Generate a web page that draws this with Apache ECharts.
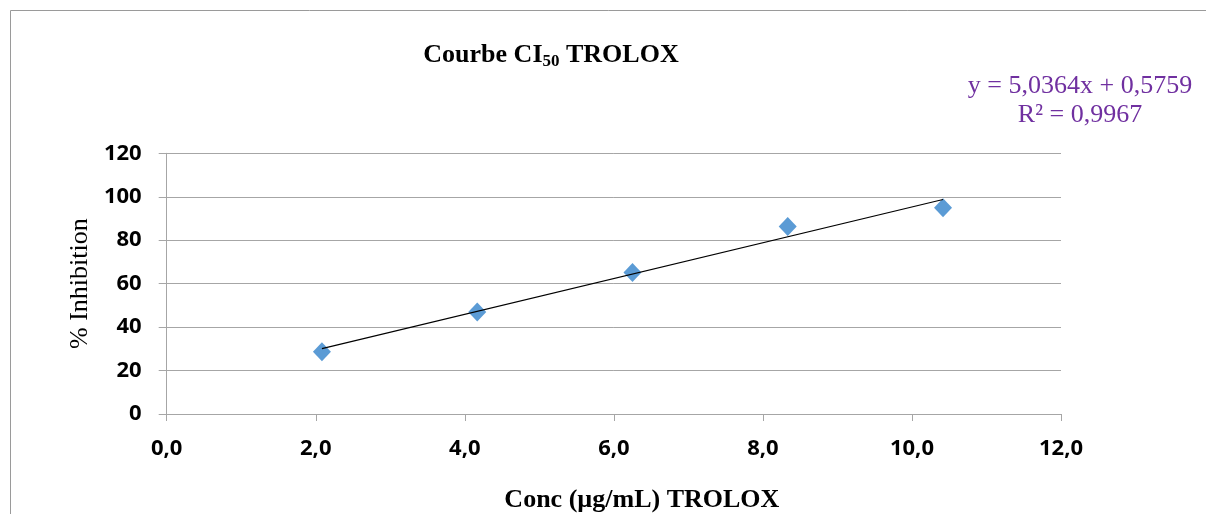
<!DOCTYPE html>
<html><head><meta charset="utf-8">
<script src="https://cdn.jsdelivr.net/npm/echarts@6/dist/echarts.min.js"></script>
<style>html,body{margin:0;padding:0;background:#fff}#c{width:1206px;height:514px}</style>
</head><body><div id="c"></div>
<script>
const concentrations = [2.083, 4.167, 6.25, 8.333, 10.417];
const inhibition = [28.7, 47.0, 65.1, 86.3, 94.9];
const xTicks = [0, 2, 4, 6, 8, 10, 12];
const yTicks = [0, 20, 40, 60, 80, 100, 120];
const equationLines = ['y = 5,0364x + 0,5759', 'R² = 0,9967'];

// least-squares trend line from the data
const n = concentrations.length;
const mx = concentrations.reduce((a,b)=>a+b,0)/n;
const my = inhibition.reduce((a,b)=>a+b,0)/n;
let sxy=0, sxx=0;
for (let i=0;i<n;i++){ sxy+=(concentrations[i]-mx)*(inhibition[i]-my); sxx+=(concentrations[i]-mx)**2; }
const slope = sxy/sxx, icpt = my - slope*mx;
const x0 = concentrations[0], x1 = concentrations[n-1];
const trend = [[x0, slope*x0+icpt], [x1, slope*x1+icpt]];

const chart = echarts.init(document.getElementById('c'), null, {renderer:'canvas'});
const tickFont = {fontFamily:'Open Sans', fontWeight:'bold', fontSize:22, color:'#000'};
chart.setOption({
  animation:false,
  backgroundColor:'#fff',
  title:{
    text:'{a|Courbe CI}{s|50}{a| TROLOX}',
    left:546, top:36, textAlign:'center',
    textStyle:{rich:{
      a:{fontFamily:'Liberation Serif', fontWeight:'bold', fontSize:26, color:'#000'},
      s:{fontFamily:'Liberation Serif', fontWeight:'bold', fontSize:17, color:'#000', padding:[12,0,0,0]}
    }}
  },
  graphic:[
    {type:'rect', shape:{x:10.5, y:10.5, width:1300, height:700}, style:{fill:'none', stroke:'#9a9a9a', lineWidth:1}, silent:true},
    {type:'text', x:1080, y:86, style:{text:equationLines[0], font:'26px "Liberation Serif"', fill:'#7030A0', textAlign:'center', textVerticalAlign:'middle'}},
    {type:'text', x:1080, y:115, style:{text:equationLines[1], font:'26px "Liberation Serif"', fill:'#7030A0', textAlign:'center', textVerticalAlign:'middle'}}
  ],
  grid:{left:166.7, right:145, top:153.3, bottom:100, containLabel:false, outerBoundsMode:'none'},
  xAxis:{
    type:'value', min:xTicks[0], max:xTicks[xTicks.length-1], interval:2,
    name:'Conc (µg/mL) TROLOX', nameLocation:'middle', nameGap:73,
    nameTextStyle:{fontFamily:'Liberation Serif', fontWeight:'bold', fontSize:26, color:'#000', padding:[0,0,0,56]},
    axisLine:{show:true, lineStyle:{color:'#a6a6a6', width:1}},
    axisTick:{show:true, length:7, lineStyle:{color:'#a6a6a6'}},
    axisLabel:Object.assign({margin:24, formatter:v=>v.toFixed(1).replace('.',',')}, tickFont),
    splitLine:{show:false}
  },
  yAxis:{
    type:'value', min:yTicks[0], max:yTicks[yTicks.length-1], interval:20,
    name:'% Inhibition', nameLocation:'middle', nameGap:74, nameRotate:90,
    nameTextStyle:{fontFamily:'Liberation Serif', fontSize:26, color:'#000'},
    axisLine:{show:true, lineStyle:{color:'#a6a6a6', width:1}},
    axisTick:{show:true, length:8, lineStyle:{color:'#a6a6a6'}},
    axisLabel:Object.assign({margin:25}, tickFont),
    splitLine:{show:true, lineStyle:{color:'#a6a6a6', width:1}}
  },
  series:[
    {type:'line', data:trend, symbol:'none', lineStyle:{color:'#000', width:1.2}, z:3, silent:true},
    {type:'scatter', data:concentrations.map((x,i)=>[x, inhibition[i]]), symbol:'diamond', symbolSize:[18,19],
     itemStyle:{color:'#5B9BD5', opacity:1}, z:2}
  ]
});
</script></body></html>
